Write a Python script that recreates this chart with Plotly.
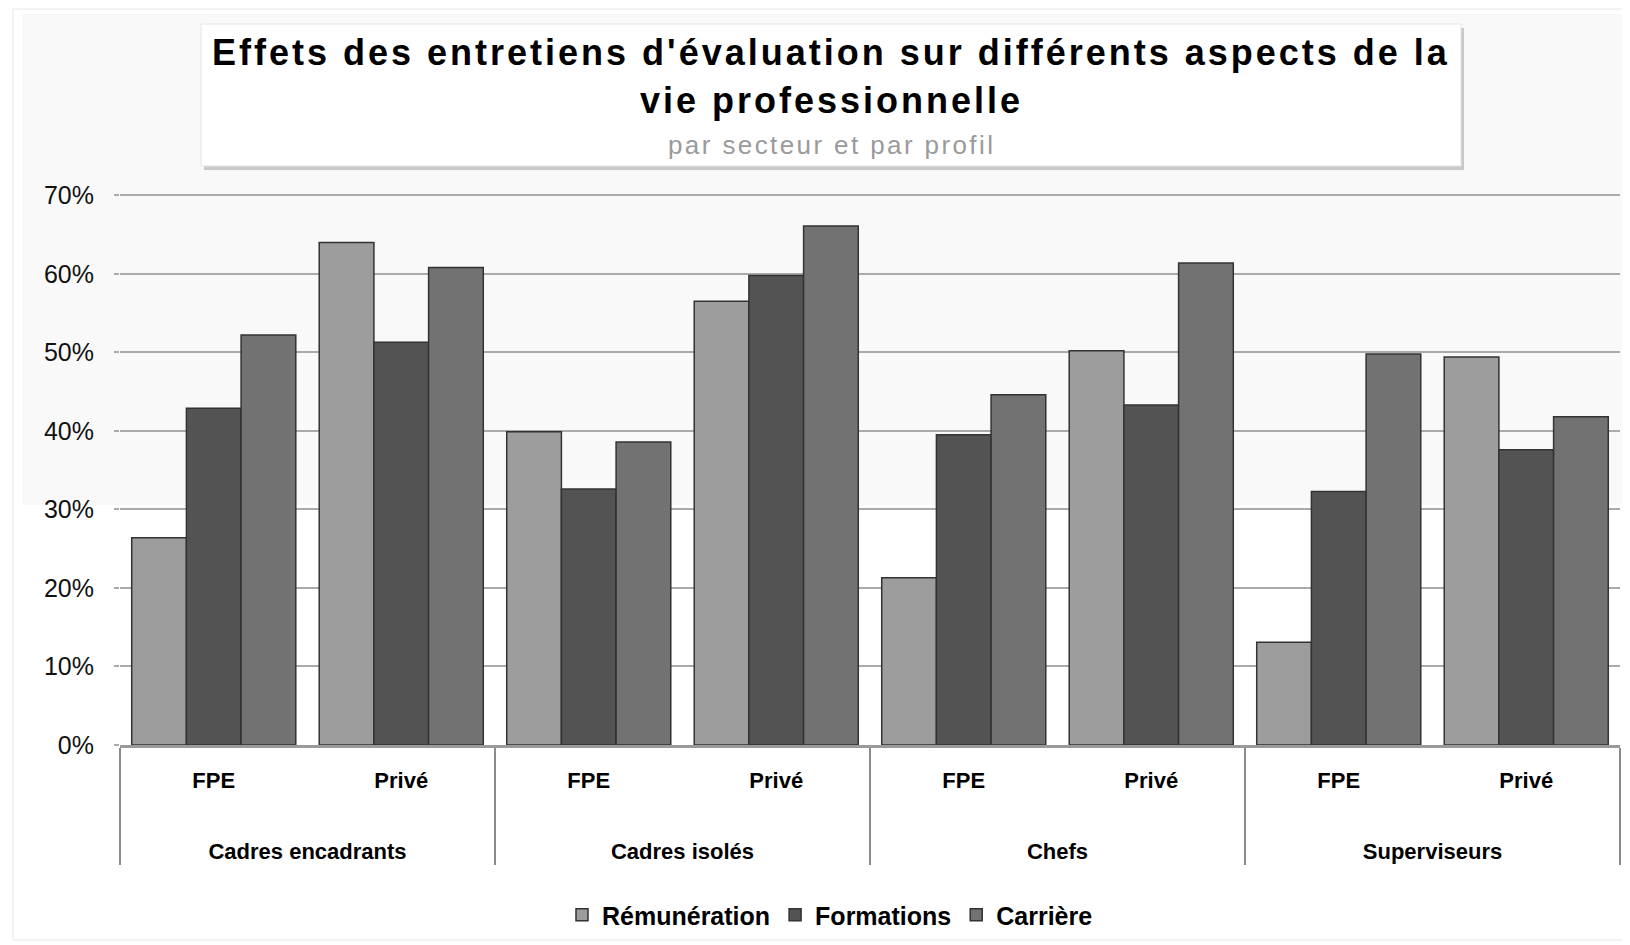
import plotly.graph_objects as go

# ---- data ----
groups = ["Cadres encadrants", "Cadres isolés", "Chefs", "Superviseurs"]
sectors = ["FPE", "Privé"]
series_names = ["Rémunération", "Formations", "Carrière"]
remuneration = [26.4, 64.0, 39.9, 56.5, 21.3, 50.2, 13.1, 49.4]
formations = [42.9, 51.3, 32.6, 59.8, 39.5, 43.3, 32.3, 37.6]
carriere = [52.2, 60.8, 38.6, 66.1, 44.6, 61.4, 49.8, 41.8]
y_ticks = [0, 10, 20, 30, 40, 50, 60, 70]
y_ticktext = ["0%", "10%", "20%", "30%", "40%", "50%", "60%", "70%"]

title_line1 = "Effets des entretiens d'évaluation sur différents aspects de la"
title_line2 = "vie professionnelle"
subtitle = "par secteur et par profil"

# ---- build ----
x_group = [g for g in groups for _ in sectors]
# extra blank lines under the sector label give the room between the two label rows
x_sector = [s + "<br>\u00a0<br>\u00a0" for _ in groups for s in sectors]

colors = ["#9d9d9d", "#535353", "#727272"]
values = [remuneration, formations, carriere]

# page has an 8px body margin: the figure is drawn at offset (8, 8) in the window
OFF = 8
W, H = 1622, 937
ML, MR, MT, MB = 112, 10, 185, 200
pw = W - ML - MR
ph = H - MT - MB


def px_x(p):
    return (p - OFF - ML) / pw


def px_y(p):
    return (H - MB - (p - OFF)) / ph


fig = go.Figure()
for name, vals, col in zip(series_names, values, colors):
    fig.add_trace(go.Bar(
        x=[x_group, x_sector], y=vals, name=name,
        marker=dict(color=col, line=dict(color="#333333", width=1.5)),
    ))

font_family = "Liberation Sans, Arial, sans-serif"

shapes = [
    dict(type="rect", xref="paper", yref="paper", x0=px_x(22), x1=px_x(1622),
         y0=px_y(505), y1=px_y(14), fillcolor="#f9f9f9", line=dict(width=0), layer="below"),
    dict(type="rect", xref="paper", yref="paper", x0=px_x(13), x1=px_x(1628),
         y0=px_y(940), y1=px_y(9), fillcolor="rgba(0,0,0,0)", line=dict(color="#e6e6e6", width=1), layer="below"),
    dict(type="rect", xref="paper", yref="paper", x0=px_x(204), x1=px_x(1464),
         y0=px_y(170), y1=px_y(28), fillcolor="#c9c9c9", line=dict(width=0), layer="above"),
    dict(type="rect", xref="paper", yref="paper", x0=px_x(201), x1=px_x(1461),
         y0=px_y(166), y1=px_y(24), fillcolor="#ffffff", line=dict(color="#e4e4e4", width=1), layer="above"),
]

title_style = "letter-spacing:3px"
annotations = [
    dict(text=f"<span style='{title_style}'>{title_line1}</span>", xref="paper", yref="paper",
         x=px_x(831), y=px_y(52), showarrow=False, xanchor="center", yanchor="middle",
         font=dict(family=font_family, size=36, color="#000000", weight="bold")),
    dict(text=f"<span style='{title_style}'>{title_line2}</span>", xref="paper", yref="paper",
         x=px_x(831), y=px_y(101), showarrow=False, xanchor="center", yanchor="middle",
         font=dict(family=font_family, size=36, color="#000000", weight="bold")),
    dict(text=f"<span style='letter-spacing:2.4px'>{subtitle}</span>", xref="paper", yref="paper",
         x=px_x(831), y=px_y(145), showarrow=False, xanchor="center", yanchor="middle",
         font=dict(family=font_family, size=26, color="#9a9a9a")),
]

fig.update_layout(
    width=W, height=H,
    margin=dict(l=ML, r=MR, t=MT, b=MB, autoexpand=False),
    paper_bgcolor="#ffffff", plot_bgcolor="rgba(0,0,0,0)",
    barmode="group", bargap=0.125, bargroupgap=0,
    font=dict(family=font_family, color="#000000"),
    showlegend=True,
    legend=dict(orientation="h", x=px_x(830), xanchor="center", y=px_y(915), yanchor="middle",
                font=dict(size=25, weight="bold", family=font_family), itemwidth=30,
                bgcolor="rgba(0,0,0,0)"),
    shapes=shapes, annotations=annotations,
)

fig.update_yaxes(
    range=[0, 70.3], tickvals=y_ticks, ticktext=y_ticktext,
    showgrid=True, gridcolor="#aaaaaa", gridwidth=2,
    zeroline=False, showline=False, automargin=False,
    ticks="outside", ticklen=5, tickcolor="#aaaaaa", tickwidth=2,
    ticklabelstandoff=15,
    tickfont=dict(size=25, family=font_family, color="#111111"),
)
fig.update_xaxes(
    type="multicategory", automargin=False,
    showline=True, linecolor="#9a9a9a", linewidth=3,
    showdividers=True, dividercolor="#8a8a8a", dividerwidth=2,
    ticks="", ticklabelstandoff=14,
    tickfont=dict(size=22, family=font_family, weight="bold", color="#000000"),
)

fig.write_html("out.html")
